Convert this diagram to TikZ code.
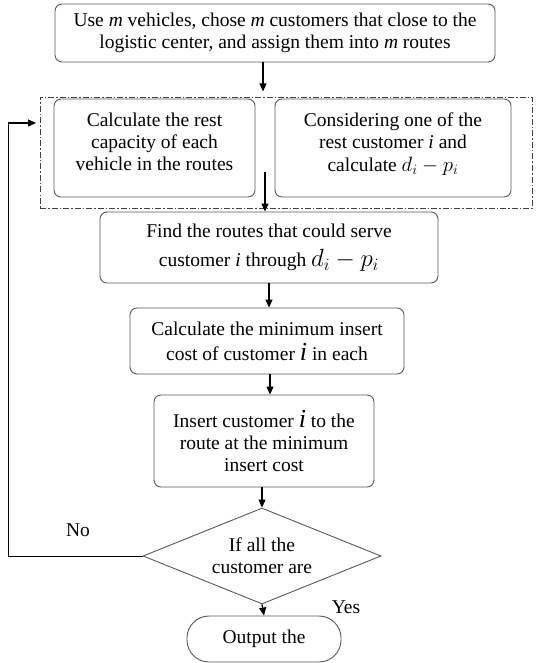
\documentclass[tikz,border=0pt]{standalone}
\usepackage{fontspec}
\setmainfont{Liberation Serif}
\usetikzlibrary{shapes.geometric,arrows.meta}

\newcommand{\bigsym}[1]{{\fontsize{26}{22}\selectfont #1}}

\tikzset{
    box/.style={draw=black!65, rounded corners=7pt, line width=0.9pt, align=center, inner sep=0pt},
    arr/.style={-{Triangle[length=8pt,width=7pt]}, line width=1.2pt},
    dashdot/.style={draw=black!75, line width=0.9pt, dash pattern=on 6pt off 2pt on 1.5pt off 2pt}
}

\begin{document}
\begin{tikzpicture}[x=1pt, y=-1pt, font=\fontsize{19.5}{22}\selectfont]
        \useasboundingbox (0,0) rectangle (536,663);

        % Initial routes
        \node[box, minimum width=440, minimum height=58] (start) at (275,33)
            {Use \textit{m} vehicles, chose \textit{m} customers that close to the\\logistic center, and assign them into \textit{m} routes};

        % Dash-dot group with the two parallel steps
        \node[dashdot, minimum width=492, minimum height=111] (group) at (286,152.5) {};
        \node[box, minimum width=201, minimum height=98] (capacity) at (154.5,148)
            {Calculate the rest\\capacity of each\\vehicle in the routes\\[-10pt]\mbox{}};
        \node[box, minimum width=236, minimum height=98] (consider) at (393,148)
            {Considering one of the\\rest customer \textit{i} and\\[1pt]calculate ${d_i - p_i}$\\[-10pt]\mbox{}};
        \coordinate (inner) at (265,172);

        % Feasible routes
        \node[box, minimum width=338, minimum height=71] (find) at (269,247.5)
            {Find the routes that could serve\\[7pt]customer \textit{i} through \bigsym{$d_i - p_i$}};

        % Minimum insert cost
        \node[box, minimum width=274, minimum height=66] (cost) at (267,341)
            {Calculate the minimum insert\\[3pt]cost of customer \bigsym{\textit{i}} in each};

        % Insertion
        \node[box, minimum width=220, minimum height=92] (insert) at (264,441)
            {Insert customer \bigsym{\textit{i}} to the\\route at the minimum\\insert cost};

        % Decision
        \node[draw=black!65, line width=0.9pt, diamond, aspect=2.48, inner sep=0pt,
              minimum width=238, minimum height=96, align=center] (check) at (262,556)
            {If all the\\customer are};

        % Output
        \node[box, rounded corners=22pt, minimum width=154, minimum height=46] (output) at (264,639)
            {Output the};

        % Arrows
        \draw[arr] ([xshift=-12pt]start.south) -- ++(0,29);
        \draw[arr] (inner) -- (inner |- find.north);
        \draw[arr] (find.south -| 269,0) -- (269,0 |- cost.north);
        \draw[arr] (cost.south -| 270,0) -- (270,0 |- insert.north);
        \draw[arr] (insert.south -| check.north) -- (check.north);
        \draw[arr] (check.south) -- (output.north);

        % Loop back
        \draw[line width=0.9pt] (check.west) -- (8,556) -- (8,123);
        \draw[arr] (8,123) -- (36,123);

        % Labels
        \node (no) at (78,530) {No};
        \node (yes) at (346,607) {Yes};
    \end{tikzpicture}
\end{document}
